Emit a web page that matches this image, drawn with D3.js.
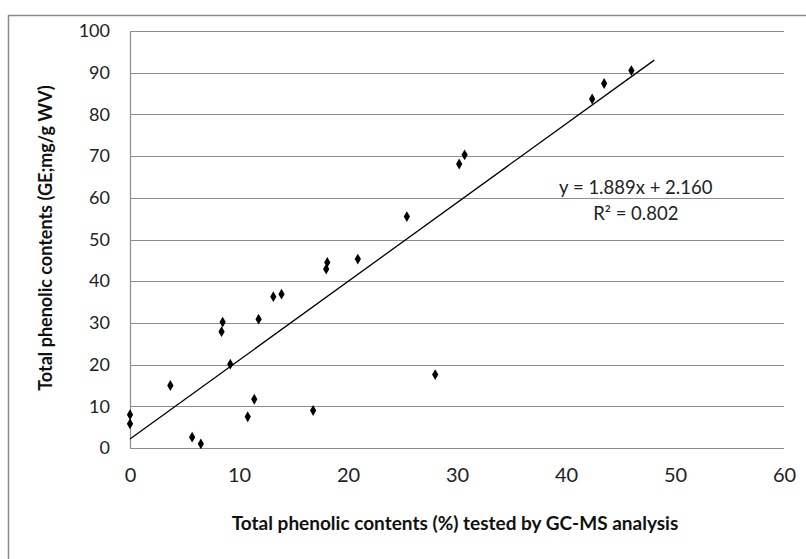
<!DOCTYPE html>
<html>
<head>
<meta charset="utf-8">
<script src="https://cdn.jsdelivr.net/npm/d3@7"></script>
<style>
  body { margin: 0; background: #fff; }
  svg { display: block; }
</style>
</head>
<body>
<div id="chart"></div>
<script>
// values
const xValues = [0, 0, 3.7, 5.7, 6.5, 8.4, 8.5, 9.2, 10.8, 11.4, 11.8, 13.15, 13.9, 16.8, 18.0, 18.1, 20.9, 25.4, 28.0, 30.2, 30.7, 42.4, 43.5, 46.0];
const yValues = [8.0, 5.8, 15.0, 2.6, 1.0, 27.9, 30.2, 20.1, 7.5, 11.7, 30.9, 36.3, 36.9, 9.0, 42.9, 44.5, 45.3, 55.5, 17.6, 68.1, 70.3, 83.7, 87.4, 90.5];
const xTicks = [0, 10, 20, 30, 40, 50, 60];
const yTicks = [0, 10, 20, 30, 40, 50, 60, 70, 80, 90, 100];
const trendSlope = 1.889;
const trendIntercept = 2.160;
const trendRange = [0, 48.1];
const equationLines = ['y = 1.889x + 2.160', 'R² = 0.802'];
const xTitle = 'Total phenolic contents (%) tested by GC-MS analysis';
const yTitle = 'Total phenolic contents (GE;mg/g WV)';

const W = 806, H = 559;
const margin = { top: 31, right: 22, bottom: 111, left: 130 };
const width = W - margin.left - margin.right;
const height = H - margin.top - margin.bottom;
const font = 'Lato, "Open Sans", sans-serif';

const svg = d3.select('#chart').append('svg')
  .attr('width', W)
  .attr('height', H);

// outer chart border (clipped by window at right/bottom)
svg.append('rect')
  .attr('x', 8.5).attr('y', 15.5)
  .attr('width', W + 10).attr('height', H + 10)
  .attr('fill', '#fff')
  .attr('stroke', '#8a8a8a')
  .attr('stroke-width', 1.5);

const g = svg.append('g')
  .attr('transform', 'translate(' + margin.left + ',' + margin.top + ')');

const x = d3.scaleLinear().domain([0, 60]).range([0, width]);
const y = d3.scaleLinear().domain([0, 100]).range([height, 0]);

// gridlines
g.append('g')
  .selectAll('line')
  .data(yTicks)
  .enter()
  .append('line')
  .attr('x1', 0).attr('x2', width)
  .attr('y1', d => Math.round(y(d)) + 0.5)
  .attr('y2', d => Math.round(y(d)) + 0.5)
  .attr('stroke', '#8c8c8c')
  .attr('stroke-width', 1.2);

// left axis line
g.append('line')
  .attr('x1', 0.5).attr('x2', 0.5)
  .attr('y1', 0).attr('y2', height)
  .attr('stroke', '#8c8c8c')
  .attr('stroke-width', 1.2);

// Y axis labels
const yAxis = g.append('g')
  .call(d3.axisLeft(y).tickValues(yTicks).tickSize(0).tickPadding(20).tickFormat(d3.format('d')));
yAxis.select('.domain').remove();
yAxis.selectAll('text')
  .attr('font-family', font)
  .attr('font-size', 18)
  .attr('fill', '#222');

// X axis labels
const xAxis = g.append('g')
  .attr('transform', 'translate(0,' + height + ')')
  .call(d3.axisBottom(x).tickValues(xTicks).tickSize(0).tickPadding(20).tickFormat(d3.format('d')));
xAxis.select('.domain').remove();
xAxis.selectAll('text')
  .attr('font-family', font)
  .attr('font-size', 20)
  .attr('fill', '#222');

// trendline
g.append('line')
  .attr('x1', x(trendRange[0]))
  .attr('y1', y(trendSlope * trendRange[0] + trendIntercept))
  .attr('x2', x(trendRange[1]))
  .attr('y2', y(trendSlope * trendRange[1] + trendIntercept))
  .attr('stroke', '#000')
  .attr('stroke-width', 1.3);

// points
const points = xValues.map((v, i) => ({ x: v, y: yValues[i] }));
g.selectAll('.pt')
  .data(points)
  .enter()
  .append('path')
  .attr('class', 'pt')
  .attr('d', d3.symbol().type(d3.symbolDiamond).size(34))
  .attr('transform', d => 'translate(' + x(d.x) + ',' + y(d.y) + ')')
  .attr('fill', '#000');

// equation
g.selectAll('.eq')
  .data(equationLines)
  .enter()
  .append('text')
  .attr('class', 'eq')
  .attr('x', x(46.4))
  .attr('y', (d, i) => y(60) - 4 + i * 26)
  .attr('text-anchor', 'middle')
  .attr('font-family', font)
  .attr('font-size', 18.5)
  .attr('fill', '#222')
  .text(d => d);

// axis titles
svg.append('text')
  .attr('x', 455)
  .attr('y', 530)
  .attr('text-anchor', 'middle')
  .attr('font-family', font)
  .attr('font-weight', 'bold')
  .attr('font-size', 19)
  .attr('fill', '#111')
  .text(xTitle);

svg.append('text')
  .attr('transform', 'translate(52,238) rotate(-90)')
  .attr('text-anchor', 'middle')
  .attr('font-family', font)
  .attr('font-weight', 'bold')
  .attr('font-size', 18)
  .attr('fill', '#111')
  .text(yTitle);
</script>
</body>
</html>
